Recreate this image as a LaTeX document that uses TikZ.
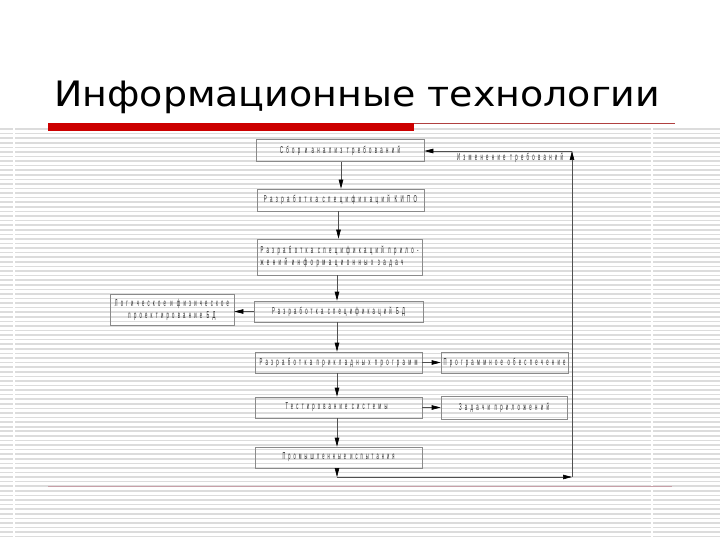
\documentclass[tikz,border=0pt]{standalone}
\usepackage{fontspec}
\usepackage{graphicx}
\setmainfont{DejaVu Sans}
\newfontfamily\bfont[FakeStretch=0.45,LetterSpace=35]{Liberation Sans}
\usetikzlibrary{arrows.meta}
\definecolor{titlered}{HTML}{CC0000}
\definecolor{thinred}{HTML}{B04040}
\definecolor{pinkline}{HTML}{C8A0A8}
\definecolor{stripe}{HTML}{DCDCDC}
\definecolor{boxline}{HTML}{8A8A8A}
\definecolor{conn}{HTML}{505050}
\newcommand\tx[2]{\resizebox{#1pt}{\height}{\fontsize{10}{11}\bfont #2}}
\tikzset{
  blk/.style={draw=boxline, line width=0.6pt, inner sep=0pt, align=center, text=black!85},
  arr/.style={draw=conn, line width=0.6pt, -{Triangle[length=9pt,width=4.5pt,color=black,fill=black]}},
}
\begin{document}
\begin{tikzpicture}[x=1pt,y=-1pt]
\useasboundingbox (0,0) rectangle (720,540);
\fill[white] (0,0) rectangle (720,540);
% striped background
\foreach \k in {0,...,89}{
  \draw[stripe, line width=1.6pt] (0,{129+4.58*\k}) -- (720,{129+4.58*\k});
}
\draw[white, line width=1.5pt] (14,128) -- (14,540);
\draw[white, line width=1.5pt] (652,128) -- (652,540);
% title
\node[anchor=base west, inner sep=0pt] (title) at (54,107) {\resizebox{606pt}{\height}{\fontsize{35}{40}\selectfont Информационные технологии}};
\fill[titlered] (48,123) rectangle (414,131);
\draw[thinred, line width=0.9pt] (414,123.5) -- (675,123.5);
\draw[pinkline, line width=1pt] (48,486) -- (672,486);
% boxes
\node[blk, minimum width=168pt, minimum height=22pt] (b1) at (340,150.5) {\tx{120}{Сбор и анализ требований}};
\node[blk, minimum width=167pt, minimum height=22pt] (b2) at (340.5,200) {\tx{153}{Разработка спецификаций КИПО}};
\node[blk, minimum width=165pt, minimum height=36pt, align=left] (b3) at (339.5,257) {\tx{158}{Разработка спецификаций прило-}\\[0pt]\tx{143}{жений информационных задач}\hspace{15pt}};
\node[blk, minimum width=169pt, minimum height=21pt] (b4) at (338.5,311.5) {\tx{133}{Разработка спецификаций БД}};
\node[blk, minimum width=124pt, minimum height=31pt] (b5) at (172,309.5) {\tx{114}{Логическое и физическое}\\[0pt]\tx{87}{проектирование БД}\hspace{12pt}};
\node[blk, minimum width=167pt, minimum height=21pt] (b6) at (338.5,362.5) {\tx{158}{Разработка прикладных программ}};
\node[blk, minimum width=127pt, minimum height=21pt] (b7) at (504.5,362.5) {\tx{122}{Программное обеспечение}};
\node[blk, minimum width=167pt, minimum height=21pt] (b8) at (338.5,407.5) {\tx{102}{Тестирование системы}\hspace{4pt}};
\node[blk, minimum width=126pt, minimum height=23pt] (b9) at (504,407.5) {\tx{90}{Задачи приложений}};
\node[blk, minimum width=167pt, minimum height=21pt] (b10) at (338.5,457.5) {\tx{112}{Промышленные испытания}};
\node[inner sep=0pt, text=black!85] (lbl) at (510,158) {\tx{106}{Изменение требований}};
% connectors
\coordinate (vx) at (337,0);
\coordinate (vy) at (341,0);
\coordinate (vz) at (338.5,0);
\draw[arr] (b1.south -| vy) -- (b2.north -| vy);
\draw[arr] (b2.south -| vz) -- (b3.north -| vz);
\draw[arr] (b3.south -| vx) -- (b4.north -| vx);
\draw[arr] (b4.west) -- (b4.west -| b5.east);
\draw[arr] (b4.south -| vx) -- (b6.north -| vx);
\draw[arr] (b6.east) -- (b6.east -| b7.west);
\draw[arr] (b6.south -| vx) -- (b8.north -| vx);
\draw[arr] (b8.east) -- (b8.east -| b9.west);
\draw[arr] (b8.south -| vx) -- (b10.north -| vx);
\coordinate (c1) at (337,477);
\coordinate (c2) at (572,477);
\coordinate (c3) at (572,151);
\draw[arr] (b10.south -| c1) -- (c1);
\draw[arr] (c1) -- (c2);
\draw[arr] (c2) -- (c3);
\draw[arr] (c3) -- (c3 -| b1.east);
\end{tikzpicture}
\end{document}
